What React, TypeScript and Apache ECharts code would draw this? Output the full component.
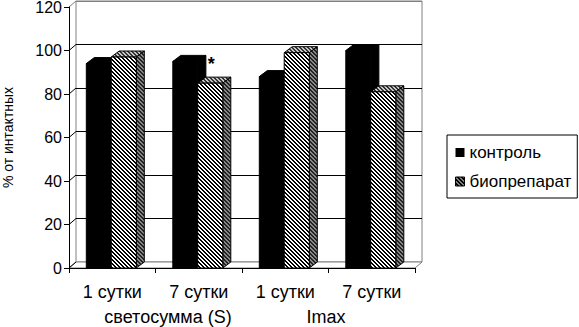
import React, { useEffect, useRef } from "react";
import * as echarts from "echarts";

const categories = ["1 сутки", "7 сутки", "1 сутки", "7 сутки"];
const groups = ["светосумма (S)", "Imax"];
const seriesNames = ["контроль", "биопрепарат"];
const control = [94, 95, 88, 100];
const bio = [97, 85, 99, 81];
const bioMarks = ["", "*", "", ""];
const yTicks = [0, 20, 40, 60, 80, 100, 120];

const FONT = "'Liberation Sans', Arial, sans-serif";

function stripes(bg: string, fg: string, size = 4, on = 2) {
  const c = document.createElement("canvas");
  c.width = size;
  c.height = size;
  const ctx = c.getContext("2d")!;
  ctx.fillStyle = bg;
  ctx.fillRect(0, 0, size, size);
  ctx.fillStyle = fg;
  for (let x = 0; x < size; x++) {
    for (let y = 0; y < size; y++) {
      const d = (((x - y) % size) + size) % size;
      if (d < on) ctx.fillRect(x, y, 1, 1);
    }
  }
  return c;
}

export default function App() {
  const ref = useRef<HTMLDivElement>(null);
  useEffect(() => {
    if (!ref.current) return;
    const chart = echarts.init(ref.current, null, { renderer: "svg" });
    const front = { image: stripes("#fff", "#000"), repeat: "repeat" } as any;
    const topPat = { image: stripes("#c8c8c8", "#333"), repeat: "repeat" } as any;
    const sidePat = { image: stripes("#888", "#222"), repeat: "repeat" } as any;
    const legendPat = { image: stripes("#000", "#fff", 4, 1), repeat: "repeat" } as any;

    const DX = 8, DY = -6; // bar depth
    const WX = 7, WY = -6; // wall depth

    const barRenderer = (kind: number) => (params: any, api: any) => {
      const cat = api.value(0);
      const v = api.value(1);
      const top = api.coord([cat, v]);
      const base = api.coord([cat, 0]);
      const band = api.size([1, 0])[0];
      const bw = band * 0.29;
      const x0 = kind === 0 ? top[0] - band * 0.3 : top[0] - band * 0.012;
      const yT = top[1];
      const yB = base[1];
      const children: any[] = [];
      if (kind === 0) {
        const st = { fill: "#000", stroke: "#000", lineWidth: 1 };
        children.push({ type: "polygon", shape: { points: [[x0, yT], [x0 + DX, yT + DY], [x0 + bw + DX, yT + DY], [x0 + bw, yT]] }, style: st });
        children.push({ type: "polygon", shape: { points: [[x0 + bw, yT], [x0 + bw + DX, yT + DY], [x0 + bw + DX, yB + DY], [x0 + bw, yB]] }, style: st });
        children.push({ type: "rect", shape: { x: x0, y: yT, width: bw, height: yB - yT }, style: st });
      } else {
        children.push({ type: "polygon", shape: { points: [[x0, yT], [x0 + DX, yT + DY], [x0 + bw + DX, yT + DY], [x0 + bw, yT]] }, style: { fill: topPat, stroke: "#000", lineWidth: 1 } });
        children.push({ type: "polygon", shape: { points: [[x0 + bw, yT], [x0 + bw + DX, yT + DY], [x0 + bw + DX, yB + DY], [x0 + bw, yB]] }, style: { fill: sidePat, stroke: "#000", lineWidth: 1 } });
        children.push({ type: "rect", shape: { x: x0, y: yT, width: bw, height: yB - yT }, style: { fill: front, stroke: "#000", lineWidth: 1 } });
        const mark = bioMarks[params.dataIndex];
        if (mark) {
          children.push({ type: "text", x: x0 + bw / 2 + 1, y: yT - 19, style: { text: mark, fill: "#000", font: `bold 18px ${FONT}`, align: "center", verticalAlign: "middle" } });
        }
      }
      return { type: "group", children };
    };

    const frameRenderer = (params: any, api: any) => {
      const cs = params.coordSys;
      const v = api.value(1);
      const y = api.coord([0, v])[1];
      const x = cs.x;
      const children: any[] = [];
      if (v === 0) {
        children.push({
          type: "polygon",
          shape: { points: [[x, y], [x + WX, y + WY], [x + cs.width + WX, y + WY], [x + cs.width, y]] },
          style: { fill: "#fff", stroke: "#808080", lineWidth: 1 },
        });
      }
      children.push({
        type: "line",
        shape: { x1: x, y1: y, x2: x + WX, y2: y + WY },
        style: { stroke: v === 120 ? "#808080" : "#000", lineWidth: 1 },
      });
      return { type: "group", children };
    };

    chart.setOption({
      animation: false,
      backgroundColor: "#fff",
      grid: [
        { left: 69, right: 164, top: 7, bottom: 59, containLabel: false, outerBoundsMode: "none" },
        { left: 76, right: 157, top: 1, bottom: 65, outerBoundsMode: "none", show: true, borderColor: "#808080", borderWidth: 1, backgroundColor: "#fff", z: 0 },
      ],
      legend: {
        orient: "vertical",
        left: 447,
        top: 135,
        padding: [9, 6, 8, 8],
        itemGap: 12,
        itemWidth: 9,
        itemHeight: 9,
        borderColor: "#000",
        borderWidth: 1,
        borderRadius: 0,
        backgroundColor: "#fff",
        textStyle: { fontSize: 17, color: "#000", fontFamily: FONT },
        data: [
          { name: seriesNames[0], icon: "rect", itemStyle: { color: "#000" } },
          { name: seriesNames[1], icon: "rect", itemStyle: { color: legendPat, borderColor: "#000", borderWidth: 1 } },
        ],
      },
      xAxis: [
        {
          type: "category",
          gridIndex: 0,
          data: categories,
          z: 5,
          axisLine: { lineStyle: { color: "#000", width: 1 } },
          axisTick: { show: true, length: 5, lineStyle: { color: "#000" } },
          axisLabel: { color: "#000", fontSize: 18, fontFamily: FONT, margin: 15, interval: 0 },
        },
        {
          type: "category",
          gridIndex: 0,
          position: "bottom",
          data: groups,
          axisLine: { show: false },
          axisTick: { show: false },
          axisLabel: {
            interval: 0,
            hideOverlap: false,
            color: "#000",
            fontSize: 18,
            fontFamily: FONT,
            margin: 40,
            formatter: (v: string, i: number) => (i === 0 ? `{a|${v}}` : `{b|${v}}`),
            rich: {
              a: { fontSize: 18, fontFamily: FONT, color: "#000", padding: [0, 0, 0, 25] },
              b: { fontSize: 18, fontFamily: FONT, color: "#000", padding: [0, 5, 0, 0] },
            },
          },
        },
        {
          type: "category",
          gridIndex: 1,
          data: categories,
          show: false,
        },
      ],
      yAxis: [
        {
          type: "value",
          gridIndex: 0,
          min: 0,
          max: 120,
          interval: 20,
          z: 5,
          name: "% от интактных",
          nameLocation: "middle",
          nameGap: 55,
          nameTextStyle: { color: "#000", fontSize: 14, lineHeight: 12, fontFamily: FONT },
          axisLine: { show: true, lineStyle: { color: "#000", width: 1 } },
          axisTick: { show: true, length: 5, lineStyle: { color: "#000" } },
          axisLabel: { color: "#000", fontSize: 16, lineHeight: 14, fontFamily: FONT, margin: 7 },
          splitLine: { show: false },
        },
        {
          type: "value",
          gridIndex: 1,
          min: 0,
          max: 120,
          interval: 20,
          axisLine: { show: false },
          axisTick: { show: false },
          axisLabel: { show: false },
          splitLine: { show: true, lineStyle: { color: ["#808080", "#000", "#000", "#000", "#000", "#000", "#808080"], width: 1 } },
        },
      ],
      series: [
        {
          type: "custom",
          name: "frame",
          xAxisIndex: 0,
          yAxisIndex: 0,
          z: 1,
          silent: true,
          clip: false,
          encode: { x: 0, y: 1 },
          renderItem: frameRenderer,
          data: yTicks.map((v) => [0, v]),
        },
        {
          type: "custom",
          name: seriesNames[0],
          xAxisIndex: 0,
          yAxisIndex: 0,
          z: 2,
          clip: false,
          itemStyle: { color: "#000" },
          encode: { x: 0, y: 1 },
          renderItem: barRenderer(0),
          data: control.map((v, i) => [i, v]),
        },
        {
          type: "custom",
          name: seriesNames[1],
          xAxisIndex: 0,
          yAxisIndex: 0,
          z: 3,
          clip: false,
          itemStyle: { color: legendPat },
          encode: { x: 0, y: 1 },
          renderItem: barRenderer(1),
          data: bio.map((v, i) => [i, v]),
        },
      ],
    });
    return () => chart.dispose();
  }, []);
  return <div ref={ref} style={{ width: 579, height: 327, position: "absolute", left: 0, top: 0 }} />;
}
